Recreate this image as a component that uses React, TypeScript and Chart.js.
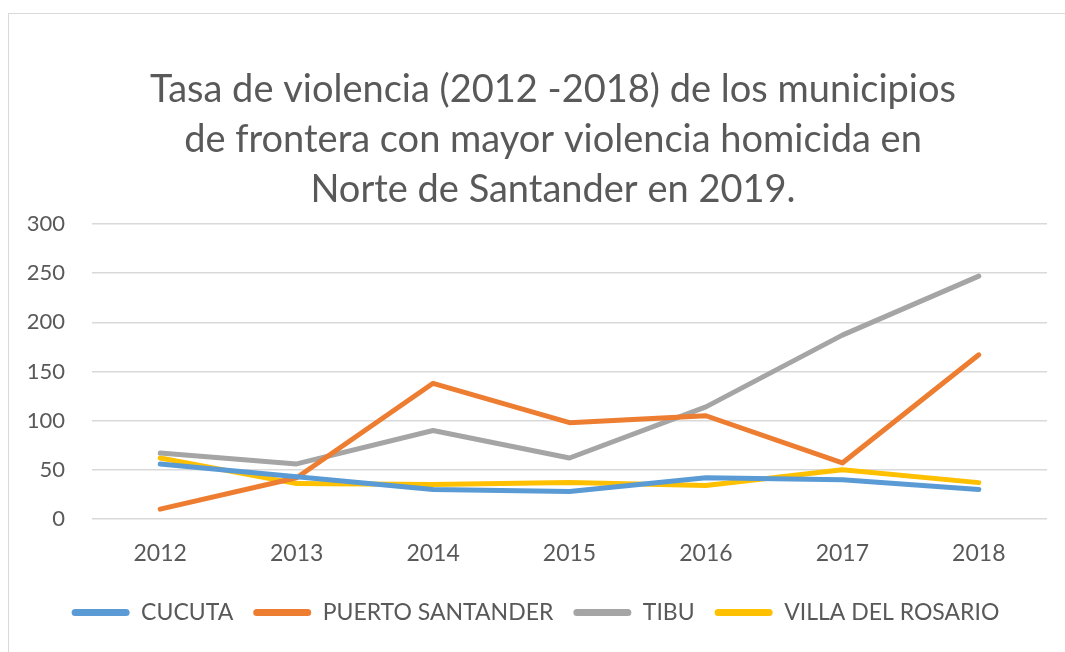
import React, { useEffect, useRef } from "react";
import { Chart, registerables } from "chart.js";

Chart.register(...registerables);

const years = ["2012", "2013", "2014", "2015", "2016", "2017", "2018"];
const cucuta = [56, 43, 30, 28, 42, 40, 30];
const puertoSantander = [10, 42, 138, 98, 105, 57, 167];
const tibu = [67, 56, 90, 62, 114, 187, 247];
const villaDelRosario = [62, 36, 35, 37, 34, 50, 37];
const titleLines = [
  "Tasa de violencia (2012 -2018) de los municipios",
  "de frontera con mayor violencia homicida en",
  "Norte de Santander en 2019.",
];

const FONT = "Lato, 'Open Sans', sans-serif";
const TEXT = "#595959";

const titlePlugin = {
  id: "customTitle",
  afterDraw(chart: any) {
    const ctx = chart.ctx;
    ctx.save();
    ctx.font = `38px ${FONT}`;
    ctx.fillStyle = TEXT;
    ctx.textAlign = "center";
    ctx.textBaseline = "alphabetic";
    const baselines = [102, 152, 202];
    titleLines.forEach((line, i) => ctx.fillText(line, 553, baselines[i]));
    ctx.restore();
  },
};

export default function App() {
  const ref = useRef<HTMLCanvasElement | null>(null);
  useEffect(() => {
    document.body.style.margin = "0";
    const mk = (label: string, data: number[], color: string) => ({
      label,
      data,
      borderColor: color,
      backgroundColor: color,
      borderWidth: 5,
      pointRadius: 0,
      tension: 0,
      borderCapStyle: "round" as const,
      borderJoinStyle: "round" as const,
    });
    const chart = new Chart(ref.current!, {
      type: "line",
      data: {
        labels: years,
        datasets: [
          mk("CUCUTA", cucuta, "#5B9BD5"),
          mk("PUERTO SANTANDER", puertoSantander, "#ED7D31"),
          mk("TIBU", tibu, "#A5A5A5"),
          mk("VILLA DEL ROSARIO", villaDelRosario, "#FFC000"),
        ],
      },
      plugins: [titlePlugin],
      options: {
        responsive: false,
        animation: false,
        layout: { padding: { left: 24, right: 18, top: 224, bottom: 18 } },
        plugins: {
          title: { display: false },
          legend: {
            position: "bottom",
            labels: {
              color: TEXT,
              font: { family: FONT, size: 23 },
              boxWidth: 58,
              boxHeight: 7,
              padding: 20,
              useBorderRadius: true,
              borderRadius: 3.5,
              generateLabels: (c: any) => {
                const items = Chart.defaults.plugins.legend.labels.generateLabels(c);
                return items.map((it: any) => ({ ...it, lineWidth: 0 }));
              },
            },
          },
          tooltip: { enabled: false },
        },
        scales: {
          x: {
            offset: true,
            grid: { display: false, drawTicks: false },
            border: { display: false },
            ticks: { color: TEXT, font: { family: FONT, size: 23 }, padding: 21, maxRotation: 0 },
            afterFit: (s: any) => {
              s.height = 62;
            },
          },
          y: {
            min: 0,
            max: 300,
            grid: { color: "#D9D9D9", lineWidth: 1.5, drawTicks: false },
            border: { display: false },
            ticks: { stepSize: 50, color: TEXT, font: { family: FONT, size: 22 }, padding: 27 },
            afterFit: (s: any) => {
              s.width = 68;
            },
          },
        },
      },
    });
    return () => chart.destroy();
  }, []);
  return (
    <div style={{ position: "fixed", left: 0, top: 0, width: 1065, height: 652, overflow: "hidden", background: "#fff" }}>
      <div
        style={{
          position: "absolute",
          left: 8,
          top: 13,
          width: 1200,
          height: 800,
          border: "1px solid #D9D9D9",
        }}
      />
      <canvas ref={ref} width={1065} height={652} style={{ position: "absolute", left: 0, top: 0 }} />
    </div>
  );
}
